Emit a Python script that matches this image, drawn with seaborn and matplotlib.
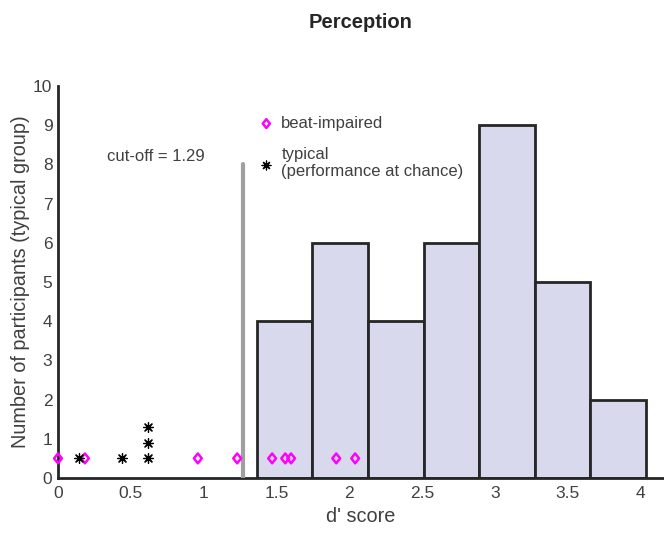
import numpy as np
import pandas as pd
import matplotlib
matplotlib.use("Agg")
import matplotlib.pyplot as plt
from matplotlib.path import Path
import seaborn as sns

# ---- data ----
bin_edges = [1.365, 1.747, 2.128, 2.510, 2.891, 3.273, 3.654, 4.036]
bin_counts = [4, 6, 4, 6, 9, 5, 2]

impaired_x = [0.0, 0.185, 0.96, 1.23, 1.47, 1.56, 1.60, 1.91, 2.04]
impaired_y = [0.5, 0.5, 0.5, 0.5, 0.5, 0.5, 0.5, 0.5, 0.5]

typical_x = [0.145, 0.44, 0.62, 0.62, 0.62]
typical_y = [0.5, 0.5, 0.5, 0.9, 1.3]

cutoff_x = 1.27
cutoff_top = 8
cutoff_label = "cut-off = 1.29"

title = "Perception"
xlabel = "d' score"
ylabel = "Number of participants (typical group)"
x_ticks = [0, 0.5, 1, 1.5, 2, 2.5, 3, 3.5, 4]
x_ticklabels = ["0", "0.5", "1", "1.5", "2", "2.5", "3", "3.5", "4"]
y_ticks = list(range(0, 11))

# ---- style ----
sns.set_style("white")
plt.rcParams['font.family'] = ['Liberation Sans', 'DejaVu Sans']
txt = "#404040"

diamond = Path([(0, 1), (0.8, 0), (0, -1), (-0.8, 0), (0, 1)],
               [Path.MOVETO, Path.LINETO, Path.LINETO, Path.LINETO, Path.CLOSEPOLY])

fig = plt.figure(figsize=(6.64, 5.33), dpi=100)
ax = fig.add_axes([58 / 664, 55 / 533, 606 / 664, 392 / 533])

centers = [(bin_edges[i] + bin_edges[i + 1]) / 2 for i in range(len(bin_counts))]
hist_df = pd.DataFrame({"d": centers, "w": bin_counts})
sns.histplot(data=hist_df, x="d", weights="w", bins=bin_edges, ax=ax,
             color="#d9d9ee", alpha=1.0, edgecolor="#262626", linewidth=2)

ax.plot([cutoff_x, cutoff_x], [0, cutoff_top], color="#a0a0a0", lw=3, zorder=3)
ax.text(1.01, 8.19, cutoff_label, ha="right", va="center",
        fontsize=12, color=txt)

imp_df = pd.DataFrame({"x": impaired_x, "y": impaired_y})
typ_df = pd.DataFrame({"x": typical_x, "y": typical_y})
sns.scatterplot(data=imp_df, x="x", y="y", ax=ax, marker=diamond, s=50,
                facecolor="none", edgecolor="#ff00ff", linewidth=1.8,
                label="beat-impaired", zorder=5, clip_on=False)
sns.scatterplot(data=typ_df, x="x", y="y", ax=ax, marker=(8, 2, 0), s=50,
                color="black", edgecolor="black", linewidth=0.9,
                label="typical\n(performance at chance)", zorder=5, clip_on=False)

ax.set_xlim(0, 4.16)
ax.set_ylim(0, 10)
ax.set_xticks(x_ticks)
ax.set_xticklabels(x_ticklabels)
ax.set_yticks(y_ticks)
ax.tick_params(direction="in", length=5, width=1.5, colors="#262626",
               labelcolor=txt, labelsize=12.5, pad=4)
ax.tick_params(axis="x", pad=6)
for s in ["top", "right"]:
    ax.spines[s].set_visible(False)
for s in ["left", "bottom"]:
    ax.spines[s].set_linewidth(2)
    ax.spines[s].set_color("#262626")

ax.set_xlabel(xlabel, fontsize=14.3, color=txt, labelpad=4)
ax.set_ylabel(ylabel, fontsize=14.3, color=txt, labelpad=2)
ax.set_title(title, fontsize=14.5, fontweight="bold", color="#262626", pad=42)

leg = ax.legend(loc="upper left", bbox_to_anchor=(243 / 664, 1 - 101 / 533),
                bbox_transform=fig.transFigure, frameon=False, fontsize=12,
                handletextpad=0.4, labelspacing=0.95, markerscale=0.9,
                handlelength=1.0, labelcolor=txt)

fig.savefig("out.png", dpi=100)
